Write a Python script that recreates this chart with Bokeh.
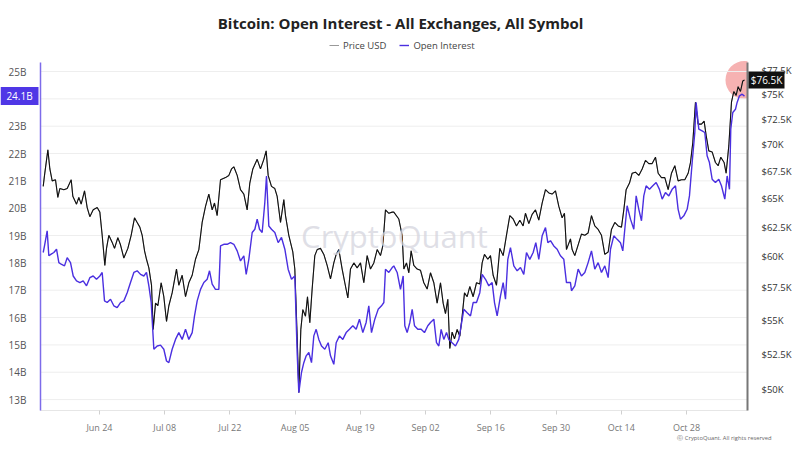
import math
import pandas as pd
from datetime import datetime, timedelta
from bokeh.plotting import figure
from bokeh.models import (Range1d, LogAxis, LogScale, FixedTicker, CustomJSTickFormatter,
                          DatetimeTickFormatter, Label, Legend, LegendItem, BoxAnnotation)
from bokeh.embed import file_html
from bokeh.resources import INLINE

# ---------------- data ----------------
START = datetime(2024, 6, 11)          # day 0 of the day offsets below
X_START_DAY = 0.34                     # visible time span (days from START)
X_END_DAY = 152.1

# Bitcoin price (USD thousands) : day offset from START
price_day = [0.92, 1.20, 1.92, 2.35, 2.85, 3.56, 4.06, 4.49, 5.35, 6.07, 6.93, 7.28, 8.07, 8.57, 9.07,
             9.79, 10.36, 10.93, 11.65, 12.51, 13.08, 13.58, 14.15, 14.51, 15.01, 15.73, 16.23, 16.94,
             17.51, 18.23, 19.09, 19.80, 20.52, 21.09, 21.66, 22.17, 22.67, 23.09, 23.60, 24.17, 24.53,
             25.03, 25.53, 26.24, 26.81, 27.39, 27.89, 28.60, 29.53, 30.03, 30.75, 31.47, 32.18, 32.90,
             33.61, 34.33, 35.04, 35.76, 36.47, 37.19, 37.69, 38.26,
             38.98, 40.05, 40.77, 41.34, 41.84, 42.56, 43.27, 43.99, 44.70, 45.27, 45.92, 46.85, 47.56,
             48.28, 48.78, 49.21, 49.92, 50.64, 51.14, 51.86, 52.57, 52.93, 53.64, 54.50, 54.93, 55.43,
             55.79, 56.22, 56.65, 57.22, 57.65, 58.15, 58.65, 59.22, 59.73, 60.44, 61.16, 61.87, 62.59,
             63.30, 63.81, 64.38, 65.09, 65.66, 66.31, 66.88, 67.60, 68.31, 69.03, 69.74, 70.46, 71.17,
             71.89, 72.61, 73.32, 73.82, 74.39, 75.11, 75.83,
             76.18, 77.25, 77.97, 78.33, 78.90, 79.40, 79.90, 80.47, 81.19, 81.91, 82.62, 83.34, 84.05,
             84.77, 85.48, 86.20, 86.77, 87.27, 87.77, 88.20, 88.70, 89.20, 89.78, 90.35, 90.85, 91.35,
             91.92, 92.49, 93.21, 93.93, 94.64, 95.14, 95.64, 96.36, 96.93, 97.50, 98.22, 98.93, 99.65,
             100.36, 101.08, 101.80, 102.51, 103.23, 103.94, 104.44, 105.16, 105.87, 106.59, 107.30,
             108.02, 108.74, 109.45, 110.17, 110.88, 111.60, 112.31, 112.81, 113.24, 114.10,
             114.46, 115.03, 115.75, 116.46, 117.18, 117.89, 118.61, 119.32, 120.04, 120.76, 121.47,
             122.19, 122.90, 123.62, 124.33, 125.05, 125.55, 126.05, 126.77, 127.34, 128.05, 128.77,
             129.49, 130.20, 130.92, 131.63, 132.35, 132.92, 133.63, 134.35, 135.07, 135.78, 136.50,
             137.21, 137.93, 138.64, 139.36, 139.86, 140.36, 140.93, 141.50, 142.22, 142.79, 143.22,
             143.79, 144.51, 145.22, 145.80, 146.37, 147.08, 147.51, 148.09, 148.66, 149.16, 149.66,
             150.09, 150.59, 151.09, 151.45]
price_k = [66.1, 67.1, 69.5, 67.7, 66.6, 66.7, 65.1, 65.9, 65.8, 65.9, 66.7, 65.2, 64.5, 65.1, 64.5,
           65.7, 64.2, 63.4, 64.0, 64.2, 63.8, 61.8, 59.3, 60.7, 61.8, 61.2, 60.7, 61.6,
           61.0, 59.9, 60.7, 61.8, 63.3, 62.9, 62.5, 61.8, 60.5, 59.8, 59.1, 57.7, 54.3,
           56.3, 56.1, 57.9, 56.8, 54.9, 56.1, 57.1, 59.0, 57.7, 58.5, 56.8, 57.9, 58.5,
           59.8, 60.6, 62.9, 64.3, 65.4, 64.0, 64.6, 63.5,
           66.7, 66.9, 67.1, 67.7, 67.9, 67.1, 65.8, 65.4, 64.0, 66.4, 67.7, 68.6, 67.7,
           68.6, 69.4, 67.1, 66.1, 65.9, 65.2, 62.9, 64.9, 63.5, 61.8, 60.4, 59.0, 53.8,
           49.8, 54.3, 55.8, 55.3, 56.8, 54.8, 57.4, 60.1, 60.6, 60.7, 60.2, 59.3, 58.2,
           59.5, 60.2, 60.6, 59.0, 57.9, 56.7, 59.0, 59.5, 59.1, 59.5, 57.9, 60.1, 59.0,
           59.5, 60.6, 60.1, 60.9, 64.0, 63.7, 63.8,
           63.8, 63.2, 61.8, 59.0, 59.5, 58.7, 60.5, 59.3, 59.0, 58.9, 57.9, 57.4, 58.7,
           57.9, 56.3, 57.9, 56.3, 55.5, 56.6, 52.9, 54.1, 53.6, 54.3, 53.8, 55.3, 57.1,
           56.8, 57.6, 56.8, 57.9, 57.8, 59.5, 60.2, 59.8, 60.1, 58.5, 57.7, 60.7, 60.1,
           61.8, 63.5, 63.2, 62.6, 63.1, 62.6, 63.7, 62.8, 63.6, 64.0, 63.1,
           64.6, 65.8, 65.5, 65.4, 65.7, 64.3, 63.3, 63.7, 60.6, 61.5,
           60.6, 60.1, 61.0, 61.9, 61.8, 62.0, 63.5, 62.6, 62.3, 61.8, 60.2,
           60.4, 62.3, 62.9, 62.6, 62.5, 64.0, 65.8, 66.4, 67.3, 67.4, 67.1,
           67.7, 68.5, 68.2, 68.2, 68.8, 67.3, 66.9, 66.9, 65.8, 67.3, 68.0,
           66.6, 66.7, 66.7, 67.3, 68.3, 70.2, 74.2, 72.0, 72.0, 72.3, 70.9,
           69.4, 69.3, 68.3, 68.0, 68.8, 68.3, 67.3, 69.9, 74.2, 75.3, 74.9,
           75.8, 75.3, 76.4, 76.5]

# Open interest (USD billions) : day offset from START
oi_day = [0.92, 1.20, 1.77, 2.13, 2.63, 3.20, 3.78, 4.28, 4.78, 5.49, 6.07, 6.78, 7.36, 8.07, 8.79,
          9.50, 10.22, 10.93, 11.65, 12.36, 13.08, 13.58, 14.08, 14.65, 15.37, 16.08, 16.80, 17.51,
          18.23, 18.95, 19.66, 20.38, 21.09, 21.81, 22.52, 23.09, 23.60, 24.10, 24.67, 25.39, 26.10,
          26.81, 27.39, 27.89, 28.60, 29.32, 30.03, 30.75, 31.47, 32.18, 32.90, 33.40, 33.97, 34.69,
          35.40, 36.12, 36.62, 37.19, 37.90, 38.62,
          38.98, 39.69, 40.41, 41.12, 41.84, 42.56, 43.27, 43.99, 44.49, 45.06, 45.78, 46.35, 46.85,
          47.35, 47.92, 48.49, 48.85, 49.35, 49.92, 50.64, 51.36, 52.07, 52.79, 53.50, 54.22, 54.93,
          55.43, 55.79, 56.36, 56.86, 57.37, 57.94, 58.51, 59.01, 59.51, 60.08, 60.66, 61.37, 62.09,
          62.59, 63.30, 63.81, 64.52, 65.23, 65.95, 66.67, 67.38, 68.10, 68.81, 69.53, 70.24, 70.81,
          71.39, 72.10, 72.82, 73.54, 74.04, 74.39, 75.11, 75.83,
          76.18, 76.90, 77.61, 78.19, 78.54, 79.04, 79.62, 80.12, 80.62, 81.33, 82.05, 82.76, 83.48,
          84.05, 84.77, 85.34, 85.84, 86.34, 86.91, 87.49, 87.99, 88.70, 89.42, 90.13, 90.63, 91.21,
          91.92, 92.64, 93.21, 93.93, 94.64, 95.14, 95.86, 96.57, 97.29, 97.79, 98.36, 99.08, 99.65,
          100.15, 100.65, 101.22, 101.94, 102.66, 103.37, 104.08, 104.66, 105.37, 106.09, 106.66,
          107.30, 108.02, 108.74, 109.24, 109.81, 110.52, 111.24, 111.95, 112.67, 113.24, 114.10,
          114.32, 115.03, 115.75, 116.46, 117.18, 117.89, 118.61, 119.32, 120.04, 120.76, 121.47,
          122.19, 122.69, 123.40, 124.12, 124.83, 125.33, 125.76, 126.26, 126.98, 127.70, 128.20,
          128.77, 129.34, 129.84, 130.34, 131.06, 131.77, 132.49, 133.20, 133.78, 134.49, 135.21,
          135.92, 136.64, 137.21, 137.71, 138.43, 139.14, 139.64, 140.22, 140.79, 141.07, 141.65,
          142.36, 142.93, 143.43, 143.93, 144.51, 145.22, 145.94, 146.51, 147.23, 147.73, 148.23,
          148.51, 148.94, 149.52, 149.87, 150.38, 150.95, 151.45]
oi_b = [18.38, 18.62, 19.17, 18.26, 18.32, 18.38, 18.50, 18.01, 17.95, 17.89, 18.19, 18.01, 17.52, 17.34, 17.28,
        17.34, 17.16, 17.46, 17.52, 17.40, 17.52, 17.65, 16.61, 16.55, 16.67, 16.43, 16.36, 16.55,
        16.61, 16.91, 17.28, 17.65, 17.71, 17.58, 17.52, 17.65, 17.16, 16.55, 14.84, 14.96, 14.99,
        14.84, 14.41, 14.35, 14.84, 15.20, 15.45, 15.20, 15.57, 15.20, 15.45, 16.06, 16.61, 17.03,
        17.28, 17.40, 17.71, 17.22, 17.03, 17.03,
        18.62, 18.68, 18.68, 18.74, 18.68, 18.44, 18.07, 18.26, 17.58, 18.13, 19.11, 19.23, 19.60,
        19.23, 19.11, 20.21, 21.18, 19.35, 19.23, 19.11, 18.74, 18.93, 18.50, 17.77, 17.40, 17.52,
        14.72, 13.25, 13.99, 14.35, 14.60, 14.72, 14.35, 15.33, 15.57, 15.20, 14.96, 14.84, 15.08,
        14.60, 14.29, 15.08, 15.33, 15.20, 15.45, 15.57, 15.70, 15.57, 15.94, 15.45, 15.82, 16.43,
        15.45, 15.94, 16.30, 16.43, 16.55, 17.77, 17.65, 17.83,
        17.89, 17.65, 17.03, 17.52, 15.70, 15.45, 15.82, 16.30, 15.70, 15.57, 15.57, 15.45, 15.70,
        15.82, 15.94, 15.08, 14.96, 15.57, 15.20, 15.45, 15.20, 15.08, 14.96, 15.20, 15.70, 16.30,
        16.18, 16.06, 16.55, 16.55, 16.91, 17.58, 17.40, 17.16, 17.28, 16.55, 16.06, 16.79, 17.28,
        16.67, 18.13, 18.56, 17.89, 17.71, 17.83, 17.58, 18.38, 18.13, 18.38, 18.74,
        18.13, 18.99, 19.29, 18.74, 18.81, 18.62, 18.50, 18.26, 18.13, 17.28, 17.28,
        16.98, 17.16, 17.77, 17.52, 17.65, 18.01, 18.44, 17.77, 18.01, 17.65, 17.89,
        17.46, 18.50, 18.99, 18.86, 18.74, 18.44, 19.23, 20.09, 19.60, 19.23, 20.45,
        19.96, 19.54, 20.45, 20.82, 20.69, 20.82, 20.94, 20.69, 20.33, 20.57, 20.45,
        20.69, 20.82, 19.96, 19.60, 19.72, 19.96, 20.45, 21.67, 22.77, 23.87, 22.89,
        22.83, 22.77, 21.92, 21.67, 21.06, 20.94, 21.06, 20.82, 20.33, 21.18, 20.69,
        22.89, 23.50, 23.62, 23.87, 24.11, 24.17, 24.10]

x_tick_dates = ["2024-06-24", "2024-07-08", "2024-07-22", "2024-08-05", "2024-08-19",
                "2024-09-02", "2024-09-16", "2024-09-30", "2024-10-14", "2024-10-28"]
oi_ticks = [13, 14, 15, 16, 17, 18, 19, 20, 21, 22, 23, 24, 25]
price_ticks = [50, 52.5, 55, 57.5, 60, 62.5, 65, 67.5, 70, 72.5, 75, 77.5]
last_oi = 24.1
last_price = 76.5
OI_MIN, OI_MAX = 12.6, 25.33
PRICE_MIN, PRICE_MAX = 48.58, 78.36

# ---------------- layout (pixels) ----------------
W, H = 800, 450
FL, FR, FT, FB = 40, 747, 62, 410       # edges of the plotting area
FONT = "Open Sans"
OI_COLOR = "#4a2fe0"

DPP = (X_END_DAY - X_START_DAY) / (FR - FL)            # days per pixel
OPP = (OI_MAX - OI_MIN) / (FB - FT)                    # billions per pixel
LPP = math.log(PRICE_MAX / PRICE_MIN) / (FB - FT)      # log-price per pixel


def to_dt(d):
    return START + timedelta(days=d)


def ms(dt):
    return pd.Timestamp(dt).value / 1e6


def sx(px):   # page pixel -> time
    return to_dt(X_START_DAY + (px - FL) * DPP)


def sy(py):   # page pixel -> open-interest coordinate
    return OI_MAX - (py - FT) * OPP


price_x = [to_dt(d) for d in price_day]
oi_x = [to_dt(d) for d in oi_day]
x_start, x_end = to_dt(X_START_DAY), to_dt(X_END_DAY)

p = figure(width=W, height=H, x_axis_type="datetime", output_backend="svg",
           toolbar_location=None, title_location=None,
           min_border=0, min_border_left=0, min_border_right=0,
           min_border_top=0, min_border_bottom=0,
           x_range=Range1d(sx(0), sx(W)), y_range=Range1d(sy(H), sy(0)))
p.extra_y_ranges = {"price": Range1d(PRICE_MIN * math.exp(-(H - FB) * LPP),
                                     PRICE_MAX * math.exp(FT * LPP))}
p.extra_y_scales = {"price": LogScale()}
p.outline_line_color = None
p.background_fill_color = "white"
p.border_fill_color = "white"
p.xgrid.grid_line_color = None
p.ygrid.grid_line_color = None

# horizontal grid lines at the open-interest ticks
p.segment(x0=x_start, x1=x_end, y0=oi_ticks, y1=oi_ticks, line_color="#eeeeee", line_width=1)

# highlight circle at last point, clipped at the plot edge by a white cover
p.scatter(x=[price_x[-1]], y=[last_price], y_range_name="price", size=38,
          fill_color="#f07f7f", fill_alpha=0.6, line_color=None, level="image")
p.add_layout(BoxAnnotation(left=ms(sx(FR)), right=ms(sx(FR + 25)), top=sy(FT - 4), bottom=sy(FT + 46),
                           fill_color="white", fill_alpha=1, line_color=None, level="underlay"))

price_legend_r = p.line(price_x, price_k, y_range_name="price", line_color="#999999", line_width=1)
price_r = p.line(price_x, price_k, y_range_name="price", line_color="#111111", line_width=1.1)
oi_r = p.line(oi_x, oi_b, line_color=OI_COLOR, line_width=1.4)

# title
p.add_layout(Label(x=sx(400), y=sy(22), text="Bitcoin: Open Interest - All Exchanges, All Symbol",
                   text_align="center", text_baseline="middle", text_font=FONT,
                   text_font_size="15px", text_font_style="bold", text_color="#222222"))

# legend
legend = Legend(items=[LegendItem(label="Price USD", renderers=[price_legend_r]),
                       LegendItem(label="Open Interest", renderers=[oi_r])],
                orientation="horizontal", location=(329, H - 55),
                label_text_font=FONT, label_text_font_size="9.5px", label_text_color="#444444",
                glyph_width=10, glyph_height=10, label_height=20, spacing=13, padding=0, margin=0,
                label_standoff=4, border_line_color=None, background_fill_alpha=0)
p.add_layout(legend)

# left axis (open interest)
yl = p.yaxis[0]
yl.fixed_location = ms(x_start)
yl.bounds = (OI_MIN, OI_MAX)
yl.ticker = FixedTicker(ticks=oi_ticks)
yl.formatter = CustomJSTickFormatter(code="return tick + 'B';")
yl.major_tick_line_color = None
yl.minor_tick_line_color = None
yl.axis_line_color = "#7d6bea"
yl.axis_line_width = 1.5
yl.major_label_text_font = FONT
yl.major_label_text_font_size = "10px"
yl.major_label_text_color = "#555555"
yl.major_label_standoff = 8

# right axis (price, log)
yr = LogAxis(y_range_name="price", ticker=FixedTicker(ticks=price_ticks),
             formatter=CustomJSTickFormatter(code="return '$' + tick + 'K';"))
yr.fixed_location = ms(x_end)
yr.bounds = (PRICE_MIN, PRICE_MAX)
yr.major_tick_line_color = None
yr.minor_tick_line_color = None
yr.axis_line_color = "#777777"
yr.axis_line_width = 2
yr.major_label_text_font = FONT
yr.major_label_text_font_size = "9.5px"
yr.major_label_text_color = "#333333"
yr.major_label_standoff = 8
p.add_layout(yr, "right")

# bottom axis
xa = p.xaxis[0]
xa.fixed_location = OI_MIN
xa.bounds = (ms(x_start), ms(x_end))
xa.ticker = FixedTicker(ticks=[pd.Timestamp(s).value / 1e6 for s in x_tick_dates])
fmt = "%b %d"
xa.formatter = DatetimeTickFormatter(days=fmt, months=fmt, hours=fmt, years=fmt)
xa.axis_line_color = "#e6e6e6"
xa.major_tick_line_color = "#d0d0d0"
xa.major_tick_out = 4
xa.major_tick_in = 0
xa.minor_tick_line_color = None
xa.major_label_text_font = FONT
xa.major_label_text_font_size = "9px"
xa.major_label_text_color = "#777777"
xa.major_label_standoff = 6

# value badges
p.add_layout(BoxAnnotation(left=ms(sx(0)), right=ms(sx(FL - 2)),
                           top=last_oi + 9 * OPP, bottom=last_oi - 9 * OPP,
                           fill_color="#4f37e6", fill_alpha=1, line_color=None))
p.add_layout(Label(x=sx((FL - 2) / 2), y=last_oi, text="24.1B", text_color="white",
                   text_font=FONT, text_font_size="10px", text_baseline="middle", text_align="center"))
p.add_layout(BoxAnnotation(left=ms(sx(FR + 1)), right=ms(sx(FR + 37)), y_range_name="price",
                           top=last_price * math.exp(8.5 * LPP), bottom=last_price * math.exp(-8.5 * LPP),
                           fill_color="#111111", fill_alpha=1, line_color=None))
p.add_layout(Label(x=sx(FR + 19), y=last_price, y_range_name="price", text="$76.5K",
                   text_color="white", text_font=FONT, text_font_size="10px",
                   text_baseline="middle", text_align="center"))

# watermark and copyright
p.add_layout(Label(x=sx(394), y=sy(235), text="CryptoQuant", text_align="center",
                   text_baseline="middle", text_font=FONT, text_font_size="31px",
                   text_color="#d5d5de", text_alpha=0.75))
p.add_layout(Label(x=sx(771), y=sy(437), text="\u24d2 CryptoQuant. All rights reserved",
                   text_align="right", text_baseline="middle", text_font=FONT,
                   text_font_size="5.8px", text_color="#666666"))

open("out.html", "w").write(file_html(p, INLINE))
